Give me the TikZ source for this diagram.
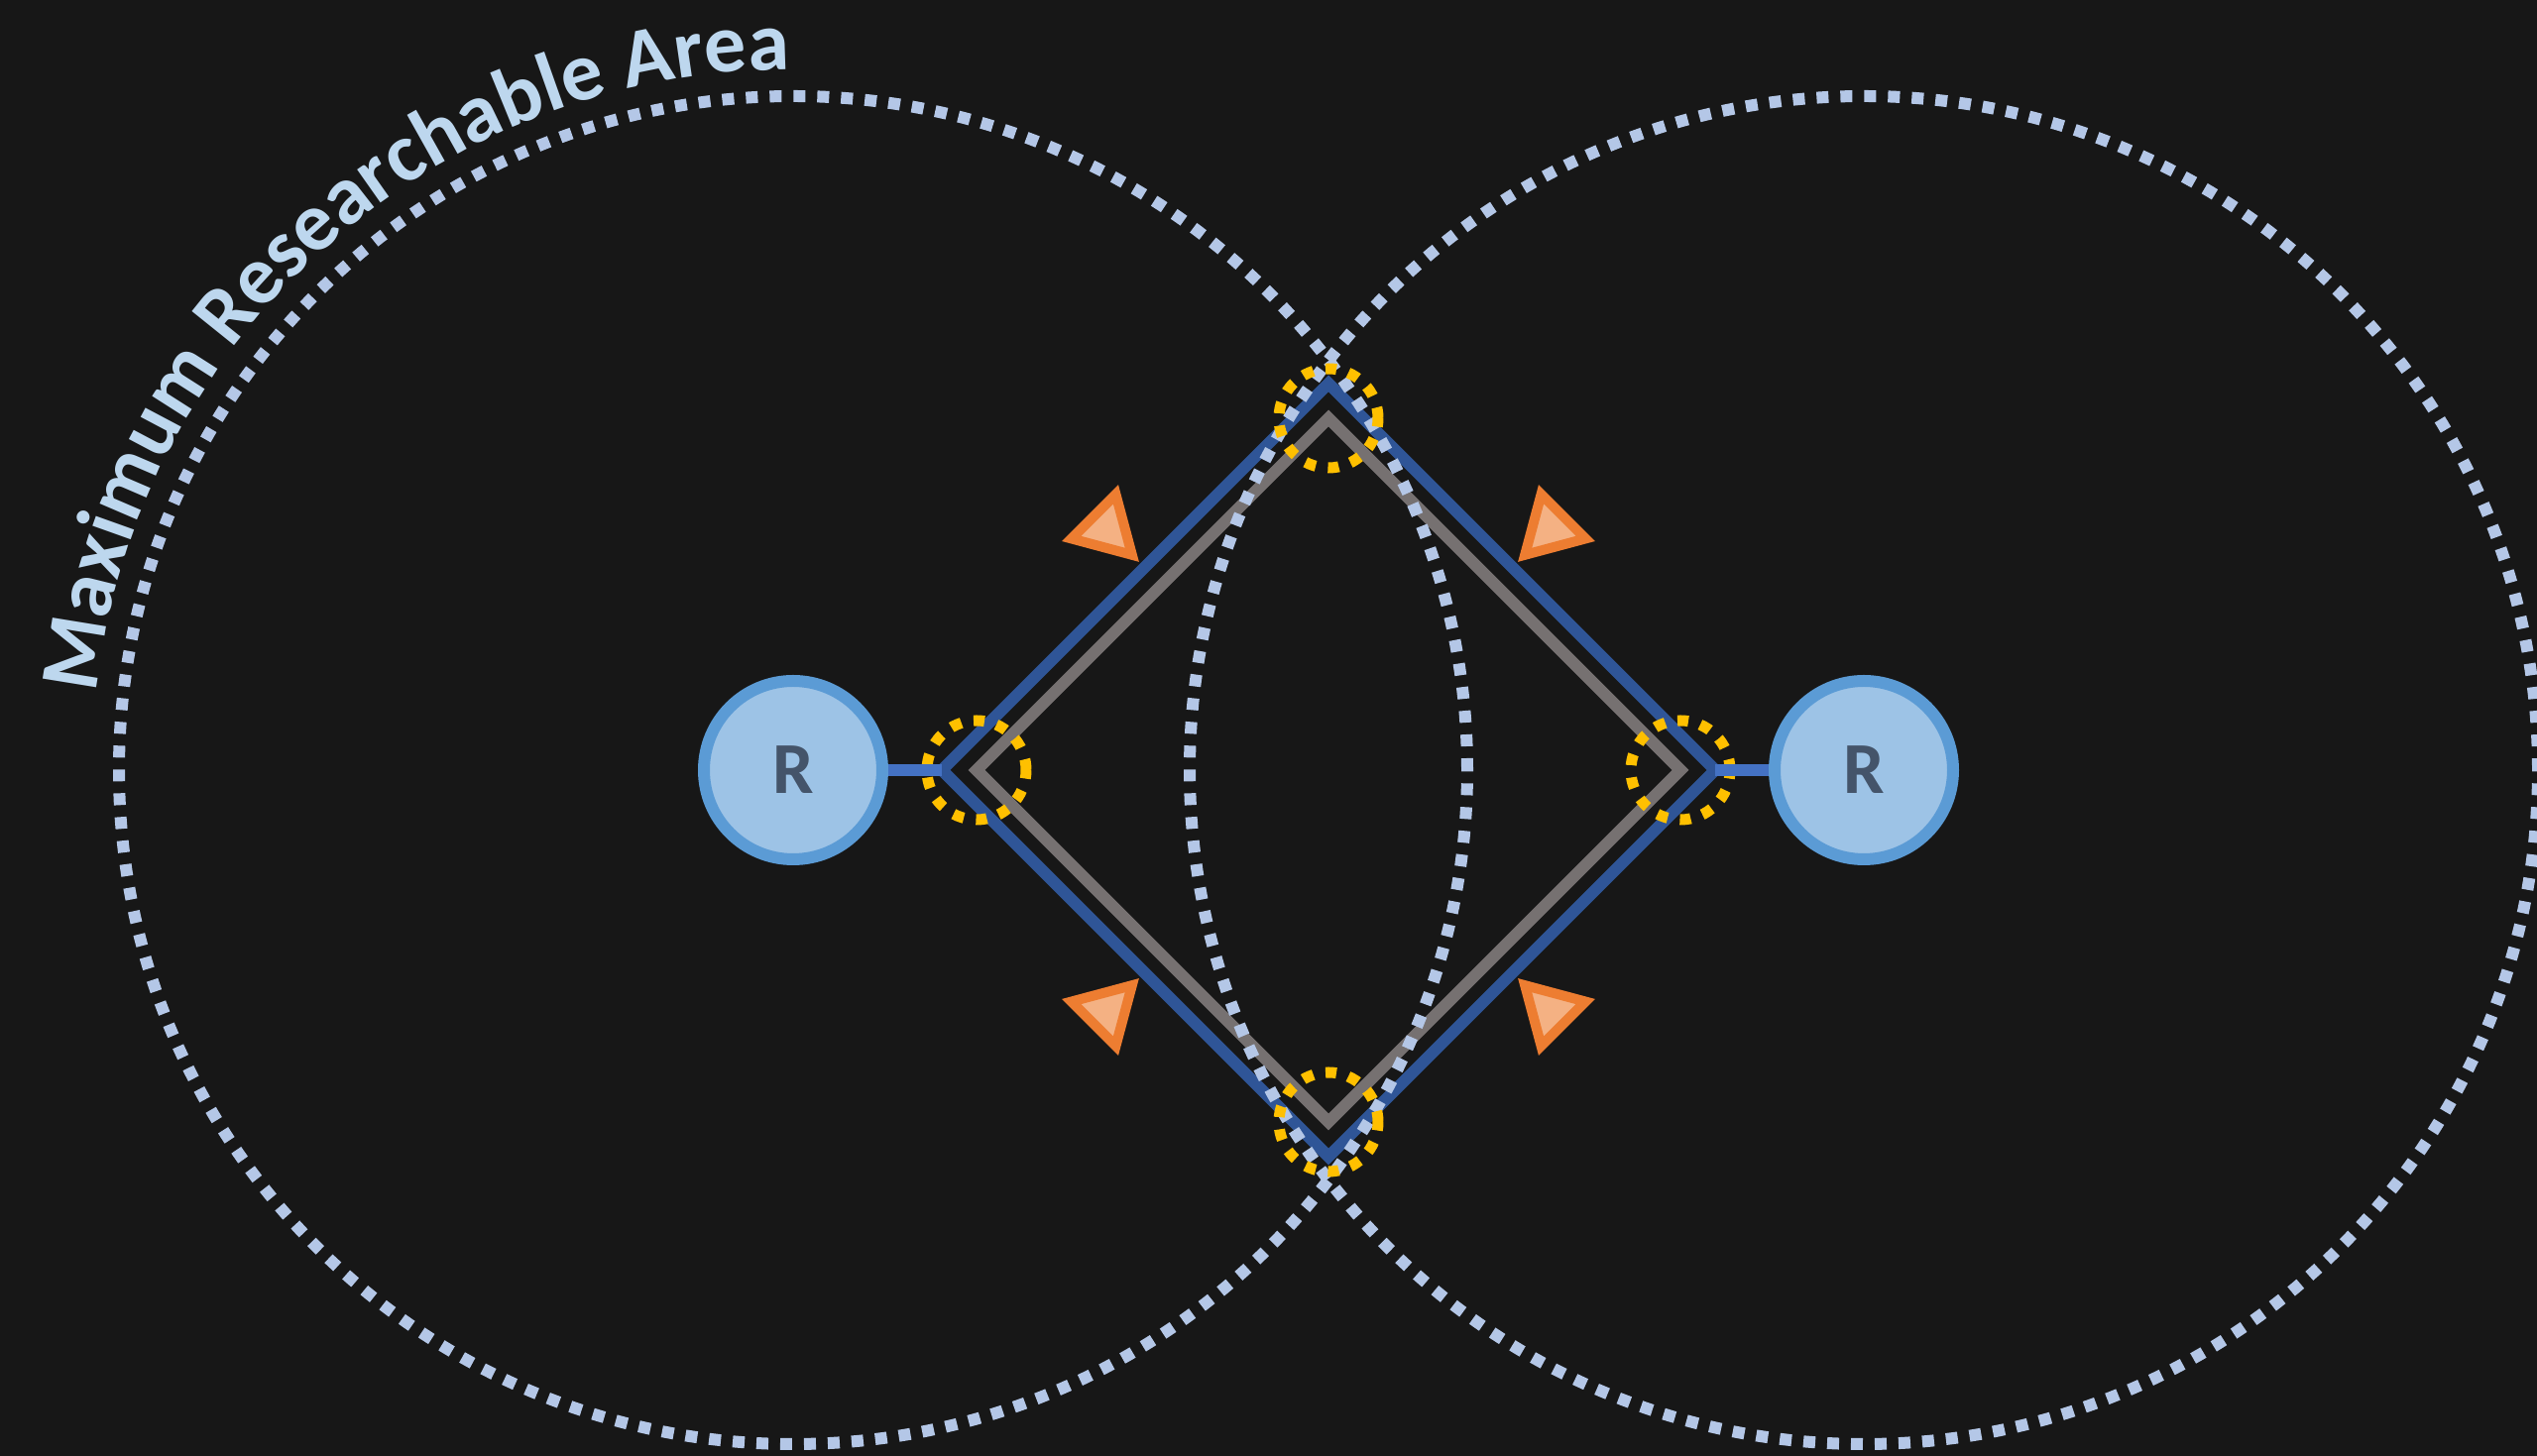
\documentclass[tikz,border=0pt]{standalone}
\usepackage{fontspec}
\setmainfont{Carlito}
\usepackage{tikz}
\usetikzlibrary{decorations.text}
\definecolor{bgDark}{HTML}{171717}
\definecolor{areaBlue}{HTML}{B4C7E7}
\definecolor{spotYellow}{HTML}{FFC000}
\definecolor{routeBlue}{HTML}{2F5597}
\definecolor{routeGray}{HTML}{767171}
\definecolor{linkBlue}{HTML}{4472C4}
\definecolor{relayFill}{HTML}{9DC3E6}
\definecolor{relayEdge}{HTML}{5B9BD5}
\definecolor{relayText}{HTML}{44546A}
\definecolor{warnEdge}{HTML}{ED7D31}
\definecolor{warnFill}{HTML}{F4B183}
\definecolor{labelBlue}{HTML}{BDD7EE}
\newcommand\areaR{6.8}
\newcommand\hubX{13.4}
\newcommand\hubY{6.92}
\newcommand\outerD{3.9}
\newcommand\innerD{3.55}
\newcommand\spotR{0.5}
\newcommand\warnR{0.365}

\begin{document}
\begin{tikzpicture}[
    area/.style={draw=areaBlue, line width=0.12cm, dash pattern=on 0.12cm off 0.12cm},
    hotspot/.style={draw=spotYellow, line width=0.11cm, dash pattern=on 0.11cm off 0.125cm},
    relay/.style={circle, draw=relayEdge, fill=relayFill, line width=0.12cm, minimum size=1.8cm,
        inner sep=0pt, text=relayText, font=\fontsize{21}{24}\selectfont\bfseries},
    route/.style={draw=routeBlue, line width=0.12cm},
    backup/.style={draw=routeGray, line width=0.12cm},
    link/.style={draw=linkBlue, line width=0.12cm},
    warn/.style={draw=warnEdge, fill=warnFill, line width=0.1cm},
]
    \fill[bgDark] (0,0) rectangle (25.59,14.69);
    \useasboundingbox (0,0) rectangle (25.59,14.69);

    % the two paths between the relays
    \coordinate (outerW) at ({\hubX-\outerD},\hubY);
    \coordinate (outerN) at (\hubX,{\hubY+\outerD});
    \coordinate (outerE) at ({\hubX+\outerD},\hubY);
    \coordinate (outerS) at (\hubX,{\hubY-\outerD});
    \coordinate (innerW) at ({\hubX-\innerD},\hubY);
    \coordinate (innerN) at (\hubX,{\hubY+\innerD});
    \coordinate (innerE) at ({\hubX+\innerD},\hubY);
    \coordinate (innerS) at (\hubX,{\hubY-\innerD});
    \draw[route] (outerW) -- (outerN) -- (outerE) -- (outerS) -- cycle;
    \draw[backup] (innerW) -- (innerN) -- (innerE) -- (innerS) -- cycle;

    % reach of each relay
    \draw[area] (8,\hubY) circle[radius=\areaR];
    \draw[area] (18.8,\hubY) circle[radius=\areaR];

    \foreach \v in {innerW, innerN, innerE, innerS}
        \draw[hotspot] (\v) circle[radius=\spotR];

    \node[relay] (relayL) at (8,\hubY) {R};
    \node[relay] (relayR) at (18.8,\hubY) {R};
    \draw[link] (relayL) -- (outerW);
    \draw[link] (relayR) -- (outerE);

    \foreach \cx/\cy/\pt in {11.16/9.35/315, 15.64/9.35/225, 15.64/4.49/135, 11.16/4.49/45}
        \draw[warn, shift={(\cx,\cy)}, rotate=\pt] (0:\warnR) -- (120:\warnR) -- (240:\warnR) -- cycle;

    \path[decorate, decoration={text along path, text align=center,
        text={|\fontsize{24}{28}\selectfont\bfseries\color{labelBlue}|Maximum Researchable Area}}]
        ([shift={(177:7.07)}]8,\hubY) arc[start angle=177, end angle=87, radius=7.07];
\end{tikzpicture}
\end{document}
